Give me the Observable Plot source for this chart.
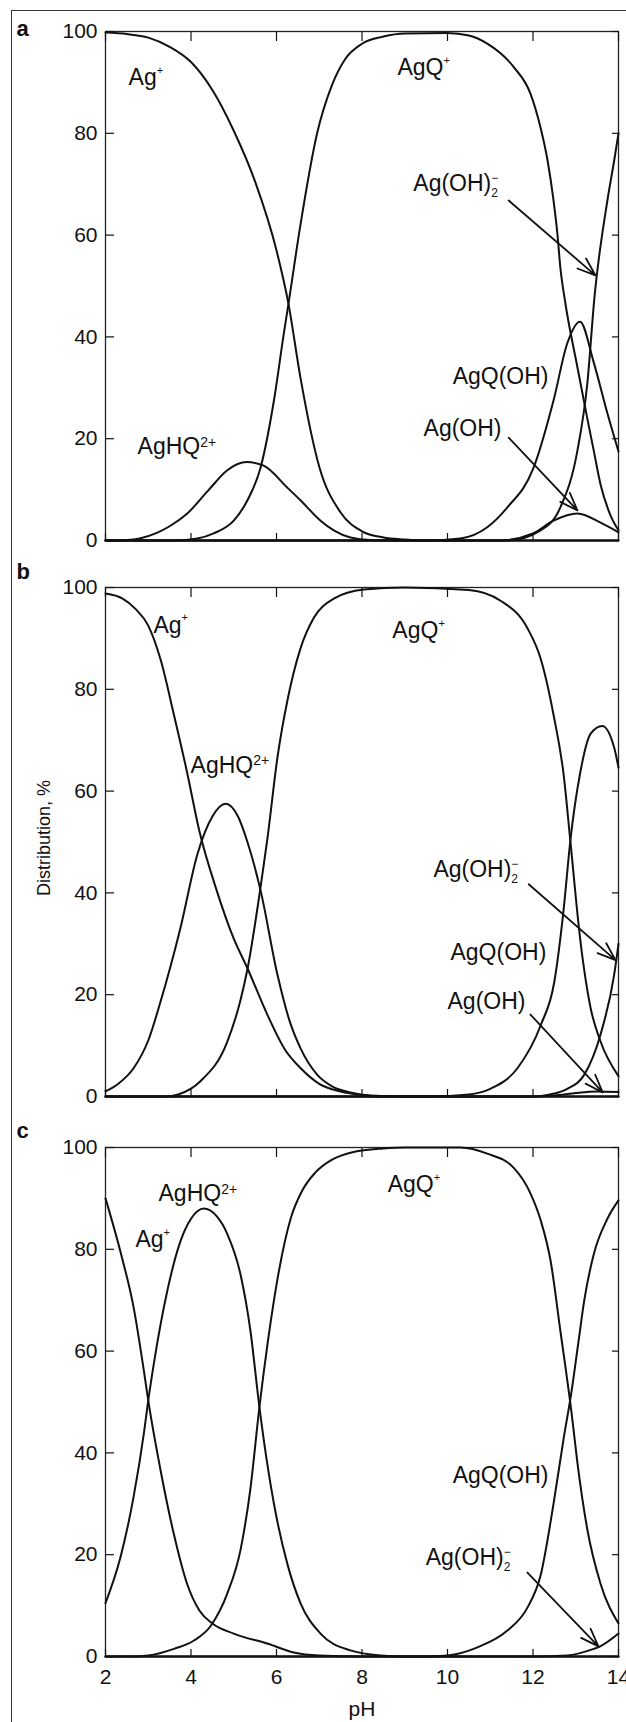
<!DOCTYPE html>
<html><head><meta charset="utf-8">
<script src="https://cdn.jsdelivr.net/npm/d3@7"></script>
<script src="https://cdn.jsdelivr.net/npm/@observablehq/plot@0.6"></script>
<style>
body{margin:0;background:#fff;}
#wrap{position:relative;width:626px;height:1722px;overflow:hidden;font-family:"Liberation Sans",Arial,sans-serif;background:#fff;}
#frame{position:absolute;left:11px;top:10px;width:800px;height:1900px;border-top:1.5px solid #333;border-left:1.5px solid #333;}
.panel{position:absolute;left:0;}
</style></head><body>
<div id="wrap"><div id="frame"></div></div>
<script>
const phTicks = [2,4,6,8,10,12,14];
const pctTicks = [0,20,40,60,80,100];

// ---- panel a : [pH, %] ----
const a_Ag = [[2,99.8],[2.5,99.5],[3,98.8],[3.5,97],[4,94],[4.5,88.5],[5,80.5],[5.5,70.5],[6,57],[6.28,46.5],[6.56,32],[7,14.5],[7.5,5.5],[8,1.8],[8.5,0.6],[9,0.2],[9.5,0],[14,0]];
const a_AgHQ = [[2,0],[2.5,0.1],[2.8,0.4],[3.2,1.5],[3.5,2.8],[3.9,5.2],[4.4,9.8],[4.85,13.8],[5.3,15.4],[5.7,14.7],[6.25,10.4],[6.56,7.9],[7.03,3.9],[7.34,2],[7.73,0.6],[8.2,0.1],[9,0],[14,0]];
const a_AgQ = [[2,0],[3.6,0],[4.15,0.4],[4.53,1.4],[5,3.9],[5.32,7.9],[5.63,14.4],[5.94,27.5],[6.17,40.6],[6.28,46.5],[6.56,62],[6.95,80],[7.3,89.5],[7.6,94.5],[8,97.6],[8.5,99],[9,99.6],[10,99.7],[10.5,99.2],[10.93,97.6],[11.55,93],[11.94,87.8],[12.18,81],[12.34,74.7],[12.48,66.8],[12.57,60.3],[12.64,53.6],[12.75,47],[13.04,34],[13.27,24],[13.42,17.7],[13.58,11],[13.8,5.2],[14,2]];
const a_AgQOH = [[2,0],[9.5,0],[10.3,0.4],[10.93,2.6],[11.4,6.5],[12,14],[12.48,27.5],[12.8,38.7],[13.1,43],[13.42,35],[13.74,25],[14,17.5]];
const a_AgOH = [[2,0],[11.2,0],[12,1.4],[12.48,3.9],[13.04,5.3],[13.58,3.5],[14,1.6]];
const a_AgOH2 = [[2,0],[11.4,0],[12.18,2],[12.64,6.5],[13.04,17.7],[13.27,30.8],[13.44,48],[13.74,66.8],[13.9,74.7],[14,80]];

// ---- panel b ----
const b_Ag = [[2,98.8],[2.4,97.8],[2.7,95.8],[3,92.5],[3.3,85.5],[3.6,75],[3.9,64],[4.2,52],[4.6,40.5],[5,31],[5.32,25.2],[5.79,16],[6.2,9.2],[6.56,5.6],[7,2.5],[7.5,1],[8,0.3],[8.5,0],[14,0]];
const b_AgHQ = [[2,1],[2.3,2.5],[2.66,5.6],[3,11],[3.29,18.7],[3.75,33],[4.15,47.6],[4.5,55],[4.81,57.5],[5.1,55],[5.32,50],[5.63,40.4],[6.02,24],[6.3,15],[6.56,9.5],[6.95,4.3],[7.3,2],[7.73,0.8],[8.2,0.2],[9,0],[14,0]];
const b_AgQ = [[2,0],[3.4,0],[3.7,0.4],[4.22,3],[4.85,10.8],[5.16,19],[5.32,25],[5.63,41.3],[5.79,50.8],[6.02,66.5],[6.26,78],[6.56,88],[6.87,94],[7.34,97.8],[8.04,99.6],[9,100],[10.5,99.5],[11.24,97.4],[11.87,92],[12.18,86],[12.48,75],[12.72,63],[12.87,50.5],[13.11,30.5],[13.35,17.3],[13.58,10.8],[14,4]];
const b_AgQOH = [[2,0],[9.6,0],[10.5,0.4],[11,1.5],[11.64,5.6],[12.18,14],[12.5,22.6],[12.72,37],[12.87,50],[13.1,63.4],[13.35,71.3],[13.62,72.8],[13.9,68.5],[14,64.6]];
const b_AgOH2 = [[2,0],[12,0],[12.4,0.4],[12.8,1.5],[13.2,4.3],[13.58,12.2],[13.9,24],[14,30]];
const b_AgOH = [[2,0],[12,0],[12.6,0.3],[13,0.7],[13.5,1.0],[14,0.9]];

// ---- panel c ----
const c_Ag = [[2,90],[2.35,79.5],[2.66,68.5],[2.9,56],[3,50.3],[3.29,36.5],[3.6,24],[3.9,14.5],[4.2,9],[4.5,6.5],[5,4.5],[5.8,2.5],[6.4,0.8],[7,0.2],[8,0],[14,0]];
const c_AgHQ = [[2,10.5],[2.35,19.5],[2.66,31.5],[2.9,44],[3,50.3],[3.13,57.5],[3.45,72],[3.75,81.5],[4,86],[4.3,88],[4.6,86.5],[4.85,83],[5.16,75],[5.39,64],[5.6,49],[5.8,37],[5.94,30],[6.26,18],[6.56,10.5],[7.03,4.5],[7.73,1.2],[8.43,0.2],[9,0],[14,0]];
const c_AgQ = [[2,0],[2.6,0],[3,0.2],[3.6,1.5],[4.06,3.1],[4.46,6],[4.85,12.4],[5.16,21],[5.39,33],[5.6,49],[5.8,62],[6.02,74],[6.33,86],[6.6,91.5],[6.9,95],[7.3,97.6],[7.8,99.1],[8.5,99.8],[9,100],[10.3,100],[10.93,98.8],[11.55,96],[11.94,91],[12.18,85.7],[12.41,77.8],[12.64,64],[12.9,48],[13.04,38],[13.27,25],[13.58,14.3],[14,6.5]];
const c_AgQOH = [[2,0],[9.5,0],[10,0.2],[10.7,1.8],[11.4,5.1],[11.87,9.6],[12.18,16],[12.48,30],[12.72,43],[12.9,52],[13.05,61],[13.2,70],[13.42,79],[13.74,86],[14,89.6]];
const c_AgOH2 = [[2,0],[12,0],[12.8,0.2],[13.42,1.5],[13.55,1.9],[14,4.5]];

// ---- species labels (pH, %, text) ----
const a_labels = [
  [2.54,89.4,"Ag^+"],[8.83,91.4,"AgQ^+"],[9.2,68.6,"Ag(OH)_2^−"],
  [10.12,30.8,"AgQ(OH)"],[9.44,20.6,"Ag(OH)"],[2.75,16.9,"AgHQ^2+"]
];
const b_labels = [
  [3.12,91.1,"Ag^+"],[8.71,90.0,"AgQ^+"],[3.99,63.6,"AgHQ^2+"],
  [9.67,43.1,"Ag(OH)_2^−"],[10.07,26.8,"AgQ(OH)"],[10.0,17.1,"Ag(OH)"]
];
const c_labels = [
  [3.24,89.4,"AgHQ^2+"],[2.70,80.4,"Ag^+"],[8.6,91.2,"AgQ^+"],
  [10.12,34.0,"AgQ(OH)"],[9.49,17.9,"Ag(OH)_2^−"]
];
// ---- arrows (from pH,% to pH,%) ----
const a_arrows = [[11.43,66.8,13.46,52.1],[11.43,20.2,13.04,5.9]];
const b_arrows = [[11.9,41.7,13.93,26.8],[11.94,16.1,13.63,0.8]];
const c_arrows = [[11.87,16.5,13.53,2.0]];

const FONT = "'Liberation Sans', Arial, Helvetica, sans-serif";

function richText(svg) {
  const ns = "http://www.w3.org/2000/svg";
  svg.querySelectorAll("text").forEach(t => {
    const s = t.textContent;
    if (!/[_^]/.test(s)) return;
    const m = s.match(/^([^_^]*)(?:_([^_^]+))?(?:\^(.+))?$/);
    if (!m) return;
    const [, main, sub, sup] = m;
    t.textContent = "";
    const add = (txt, attrs) => {
      const ts = document.createElementNS(ns, "tspan");
      ts.textContent = txt;
      for (const k in attrs) ts.setAttribute(k, attrs[k]);
      t.appendChild(ts);
    };
    add(main, {});
    if (sub && sup) {
      add(sub, {"font-size": 12, dy: 5.7});
      add(sup, {"font-size": 12, dx: -6.7, dy: -15});
    } else if (sup) {
      if (sup.length === 1) add(sup, {"font-size": 11, dy: -11.5});
      else add(sup, {"font-size": 14, dy: -7.5});
    }
  });
}

function panel({series, labels, arrows, letter, letterDy, top, bottomAxis, ylabel}) {
  const rows = [];
  for (const [name, pts] of series) for (const [x, y] of pts) rows.push({name, x, y});
  const lab = labels.map(([x, y, t]) => ({x, y, t}));
  const arr = arrows.map(([x1, y1, x2, y2]) => ({x1, y1, x2, y2}));
  const marginBottom = bottomAxis ? 66 : 6;
  const marks = [
    Plot.frame({stroke: "#222", strokeWidth: 1.3}),
    Plot.axisY(pctTicks, {anchor: "left", tickSize: -9, tickFormat: () => "", label: null, strokeWidth: 1.2}),
    Plot.axisY(pctTicks, {anchor: "left", tickSize: 0, tickPadding: 8, fontSize: 21, label: null}),
    Plot.axisY(pctTicks, {anchor: "right", tickSize: -7, tickFormat: () => "", label: null, strokeWidth: 1.2}),
    Plot.axisX(phTicks, {anchor: "top", tickSize: -9, tickFormat: () => "", label: null, strokeWidth: 1.2}),
    Plot.axisX(phTicks, {anchor: "bottom", tickSize: -7, tickFormat: () => "", label: null, strokeWidth: 1.2}),
    Plot.line(rows, {x: "x", y: "y", z: "name", curve: "monotone-x", stroke: "#111", strokeWidth: 2}),
    Plot.text(lab, {x: "x", y: "y", text: "t", textAnchor: "start", lineAnchor: "bottom", fontSize: 23, fill: "#111"}),
    Plot.arrow(arr, {x1: "x1", y1: "y1", x2: "x2", y2: "y2", stroke: "#111", strokeWidth: 1.8, headLength: 16, headAngle: 40}),
    Plot.text([letter], {frameAnchor: "top-left", text: d => d, dx: -89, dy: letterDy, textAnchor: "start", lineAnchor: "bottom", fontSize: 22, fontWeight: "bold", fill: "#111"})
  ];
  if (bottomAxis) {
    marks.push(Plot.axisX(phTicks, {anchor: "bottom", tickSize: 0, tickPadding: 13, fontSize: 21, label: null}));
    marks.push(Plot.text(["pH"], {frameAnchor: "bottom", text: d => d, dy: 59, lineAnchor: "bottom", fontSize: 21, fill: "#111"}));
  }
  if (ylabel) {
    marks.push(Plot.text([ylabel], {frameAnchor: "left", text: d => d, dx: -61, dy: -4, rotate: -90, textAnchor: "middle", lineAnchor: "middle", fontSize: 18, fill: "#111"}));
  }
  const svg = Plot.plot({
    width: 626,
    height: 31 + 509 + marginBottom,
    marginLeft: 105, marginRight: 8, marginTop: 31, marginBottom,
    x: {domain: [2, 14]},
    y: {domain: [0, 100]},
    style: {fontFamily: FONT, color: "#111", background: "transparent", overflow: "visible"},
    marks
  });
  richText(svg);
  svg.classList.add("panel");
  svg.style.top = top + "px";
  svg.style.position = "absolute";
  document.getElementById("wrap").appendChild(svg);
}

panel({
  series: [["Ag", a_Ag], ["AgHQ", a_AgHQ], ["AgQ", a_AgQ], ["AgQOH", a_AgQOH], ["AgOH", a_AgOH], ["AgOH2", a_AgOH2]],
  labels: a_labels, arrows: a_arrows, letter: "a", letterDy: 4, top: 0
});
panel({
  series: [["Ag", b_Ag], ["AgHQ", b_AgHQ], ["AgQ", b_AgQ], ["AgQOH", b_AgQOH], ["AgOH", b_AgOH], ["AgOH2", b_AgOH2]],
  labels: b_labels, arrows: b_arrows, letter: "b", letterDy: -9, top: 556, ylabel: "Distribution, %"
});
panel({
  series: [["Ag", c_Ag], ["AgHQ", c_AgHQ], ["AgQ", c_AgQ], ["AgQOH", c_AgQOH], ["AgOH2", c_AgOH2]],
  labels: c_labels, arrows: c_arrows, letter: "c", letterDy: -10, top: 1116, bottomAxis: true
});
</script>
</body></html>
